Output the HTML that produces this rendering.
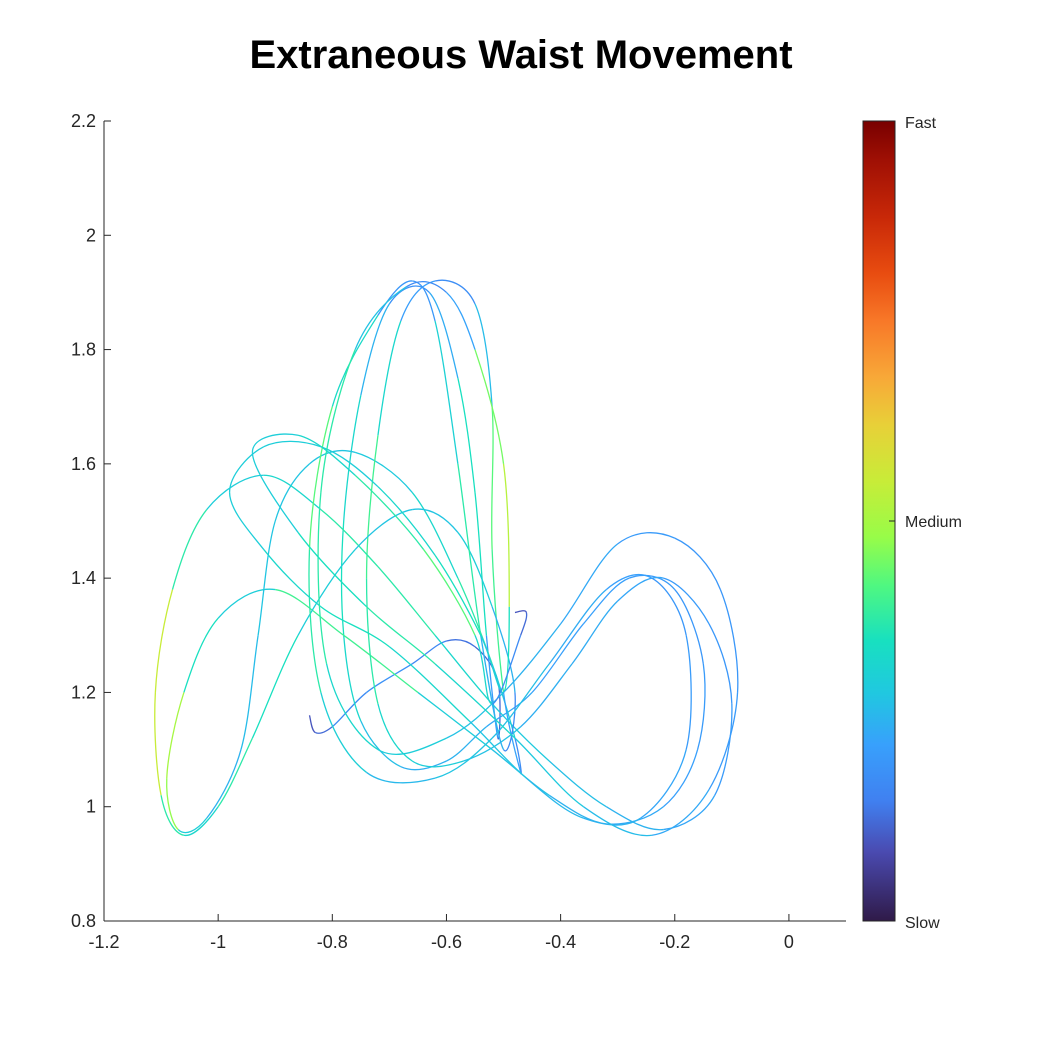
<!DOCTYPE html>
<html><head><meta charset="utf-8">
<style>
html,body{margin:0;padding:0;background:#fff;}
svg text{font-family:"Liberation Sans",Arial,sans-serif;}
</style></head>
<body>
<svg id="chart" width="1042" height="1042" viewBox="0 0 1042 1042" xmlns="http://www.w3.org/2000/svg">
<defs>
<linearGradient id="turbo" x1="0" y1="1" x2="0" y2="0">
<stop offset="0" stop-color="#2f1a48"/>
<stop offset="0.086" stop-color="#4a4ab0"/>
<stop offset="0.15" stop-color="#4080f0"/>
<stop offset="0.22" stop-color="#38a0fc"/>
<stop offset="0.285" stop-color="#20c8e0"/>
<stop offset="0.35" stop-color="#18e0c0"/>
<stop offset="0.42" stop-color="#50f880"/>
<stop offset="0.48" stop-color="#98fc48"/>
<stop offset="0.55" stop-color="#c8ec38"/>
<stop offset="0.62" stop-color="#e8d038"/>
<stop offset="0.68" stop-color="#f8a838"/>
<stop offset="0.75" stop-color="#f87828"/>
<stop offset="0.81" stop-color="#e84c10"/>
<stop offset="0.88" stop-color="#c82808"/>
<stop offset="0.95" stop-color="#a01004"/>
<stop offset="1" stop-color="#780000"/>
</linearGradient>
</defs>
<text x="521" y="68" text-anchor="middle" font-size="40" font-weight="bold" fill="#000">Extraneous Waist Movement</text>
<g id="plot"></g>
<g id="axes"></g>
<rect x="863" y="121" width="32" height="800" fill="url(#turbo)" stroke="#262626" stroke-width="1"/>
<line x1="889" y1="521" x2="895" y2="521" stroke="#262626"/>
<text x="905" y="128" font-size="16" fill="#262626">Fast</text>
<text x="905" y="527" font-size="16" fill="#262626">Medium</text>
<text x="905" y="928" font-size="16" fill="#262626">Slow</text>
</svg>
<script>
const xTicks=[-1.2,-1,-0.8,-0.6,-0.4,-0.2,0];
const xTickLabels=["-1.2","-1","-0.8","-0.6","-0.4","-0.2","0"];
const yTicks=[0.8,1,1.2,1.4,1.6,1.8,2,2.2];
const yTickLabels=["0.8","1","1.2","1.4","1.6","1.8","2","2.2"];
const trajX=[-0.84,-0.83,-0.80,-0.74,-0.66,-0.60,-0.55,-0.51,-0.51,
-0.53,-0.55,-0.58,-0.63,-0.70,-0.75,-0.78,-0.78,-0.75,-0.68,-0.60,-0.53,
-0.45,-0.36,-0.28,-0.20,-0.15,-0.16,-0.22,-0.32,-0.42,-0.52,
-0.65,-0.78,-0.90,-1.00,-1.06,-1.09,-1.07,-1.02,-0.96,-0.93,-0.90,-0.84,-0.76,-0.66,-0.58,-0.52,-0.48,-0.47,
-0.50,-0.52,-0.52,-0.55,-0.62,-0.68,-0.72,-0.74,-0.72,-0.66,-0.57,-0.47,
-0.38,-0.30,-0.22,-0.14,-0.10,-0.13,-0.22,-0.32,-0.42,-0.52,-0.62,-0.72,
-0.82,-0.92,-1.02,-1.08,-1.11,-1.10,-1.06,-1.00,-0.94,-0.86,-0.76,-0.66,
-0.58,-0.52,-0.48,-0.50,-0.54,-0.58,-0.62,-0.66,-0.72,-0.80,-0.84,-0.82,-0.74,-0.62,-0.52,
-0.42,-0.32,-0.24,-0.18,-0.18,-0.26,-0.36,-0.46,-0.56,-0.70,-0.82,
-0.92,-0.98,-0.92,-0.82,-0.72,-0.62,-0.54,-0.50,
-0.49,-0.50,-0.55,-0.60,-0.67,-0.76,-0.82,-0.81,-0.72,-0.60,-0.50,
-0.40,-0.30,-0.20,-0.12,-0.09,-0.14,-0.24,-0.36,-0.48,-0.62,-0.74,
-0.86,-0.94,-0.86,-0.76,-0.64,-0.55,-0.52,
-0.47,-0.46,-0.48];
const trajY=[1.16,1.13,1.14,1.20,1.25,1.29,1.28,1.22,1.12,
1.30,1.55,1.75,1.90,1.88,1.72,1.50,1.30,1.15,1.07,1.08,1.14,
1.20,1.32,1.40,1.38,1.25,1.10,1.00,0.97,1.02,1.10,
1.20,1.30,1.38,1.33,1.20,1.05,0.96,0.98,1.10,1.30,1.50,1.60,1.62,1.55,1.40,1.25,1.12,1.06,
1.20,1.45,1.70,1.88,1.92,1.85,1.65,1.40,1.18,1.08,1.08,1.14,
1.25,1.36,1.40,1.32,1.18,1.02,0.96,1.00,1.08,1.18,1.30,1.42,
1.52,1.58,1.52,1.38,1.20,1.02,0.95,1.00,1.12,1.30,1.45,1.52,
1.48,1.35,1.20,1.10,1.30,1.60,1.85,1.92,1.86,1.70,1.45,1.20,1.06,1.05,1.12,
1.25,1.38,1.40,1.30,1.10,0.98,0.98,1.05,1.15,1.28,1.35,
1.45,1.55,1.63,1.63,1.56,1.44,1.30,1.20,
1.35,1.60,1.80,1.90,1.91,1.80,1.55,1.25,1.10,1.12,1.20,
1.32,1.46,1.47,1.38,1.20,1.03,0.95,1.00,1.12,1.25,1.35,
1.48,1.62,1.65,1.58,1.45,1.30,1.18,
1.30,1.34,1.34];
const trajSpeed=[0.1,0.1,0.15,0.2,0.18,0.15,0.12,0.12,0.12,
0.3,0.4,0.3,0.18,0.2,0.3,0.35,0.35,0.3,0.24,0.25,0.25,
0.22,0.22,0.22,0.2,0.2,0.22,0.22,0.25,0.25,0.3,
0.3,0.5,0.3,0.3,0.4,0.6,0.35,0.25,0.25,0.28,0.28,0.28,0.28,0.3,0.35,0.4,0.2,0.15,
0.3,0.5,0.35,0.18,0.18,0.25,0.4,0.4,0.35,0.3,0.3,0.25,
0.24,0.24,0.22,0.2,0.2,0.22,0.24,0.26,0.28,0.3,0.35,0.4,
0.35,0.3,0.3,0.45,0.65,0.45,0.3,0.35,0.4,0.3,0.3,0.26,
0.3,0.3,0.2,0.15,0.35,0.4,0.22,0.18,0.22,0.45,0.4,0.35,0.26,0.26,0.3,
0.24,0.24,0.2,0.2,0.22,0.24,0.26,0.26,0.3,0.35,0.35,
0.3,0.3,0.3,0.3,0.3,0.35,0.35,0.25,
0.45,0.6,0.3,0.15,0.2,0.35,0.4,0.35,0.3,0.3,0.25,
0.25,0.22,0.2,0.2,0.2,0.22,0.25,0.28,0.3,0.35,0.4,
0.3,0.3,0.3,0.35,0.4,0.45,0.2,
0.15,0.1,0.1];

const X0=104,X1=846,XMIN=-1.2,XMAX=0.1;
const Y0=921,Y1=121,YMIN=0.8,YMAX=2.2;
function sx(v){return X0+(v-XMIN)/(XMAX-XMIN)*(X1-X0);}
function sy(v){return Y0-(v-YMIN)/(YMAX-YMIN)*(Y0-Y1);}
const stops=[[0,[47,26,72]],[0.086,[74,74,176]],[0.15,[64,128,240]],[0.22,[56,160,252]],[0.285,[32,200,224]],[0.35,[24,224,192]],[0.42,[80,248,128]],[0.48,[152,252,72]],[0.55,[200,236,56]],[0.62,[232,208,56]],[0.68,[248,168,56]],[0.75,[248,120,40]],[0.81,[232,76,16]],[0.88,[200,40,8]],[0.95,[160,16,4]],[1,[120,0,0]]];
function cmap(t){t=Math.max(0,Math.min(1,t));for(let i=1;i<stops.length;i++){if(t<=stops[i][0]){const a=stops[i-1],b=stops[i];const f=(t-a[0])/(b[0]-a[0]);const c=a[1].map((v,k)=>Math.round(v+(b[1][k]-v)*f));return `rgb(${c[0]},${c[1]},${c[2]})`;}}return 'rgb(120,0,0)';}
const NS='http://www.w3.org/2000/svg';
const plot=document.getElementById('plot');
const P=trajX.map((x,i)=>[sx(x),sy(trajY[i])]);
for(let i=0;i<P.length-1;i++){
  const p0=P[Math.max(0,i-1)],p1=P[i],p2=P[i+1],p3=P[Math.min(P.length-1,i+2)];
  const c1=[p1[0]+(p2[0]-p0[0])/6,p1[1]+(p2[1]-p0[1])/6];
  const c2=[p2[0]-(p3[0]-p1[0])/6,p2[1]-(p3[1]-p1[1])/6];
  const path=document.createElementNS(NS,'path');
  path.setAttribute('d',`M${p1[0]},${p1[1]} C${c1[0]},${c1[1]} ${c2[0]},${c2[1]} ${p2[0]},${p2[1]}`);
  path.setAttribute('fill','none');
  path.setAttribute('stroke',cmap((trajSpeed[i]+trajSpeed[i+1])/2));
  path.setAttribute('stroke-width','1.3');
  
  
  plot.appendChild(path);
}
const axes=document.getElementById('axes');
function mk(tag,attrs){const e=document.createElementNS(NS,tag);for(const k in attrs)e.setAttribute(k,attrs[k]);return e;}
let xl=mk('line',{x1:X0,y1:Y0,x2:X1,y2:Y0,stroke:'#262626'});


axes.appendChild(xl);
let yl=mk('line',{x1:X0,y1:Y0,x2:X0,y2:Y1,stroke:'#262626'});


axes.appendChild(yl);
xTicks.forEach((v,i)=>{const x=sx(v);
  const t=mk('line',{x1:x,y1:Y0,x2:x,y2:Y0-7,stroke:'#262626'});
  
  
  axes.appendChild(t);
  const l=mk('text',{x:x,y:Y0+27,'text-anchor':'middle','font-size':'18',fill:'#262626'});
  l.textContent=xTickLabels[i];
  
  
  axes.appendChild(l);});
yTicks.forEach((v,i)=>{const y=sy(v);
  const t=mk('line',{x1:X0,y1:y,x2:X0+7,y2:y,stroke:'#262626'});
  
  
  axes.appendChild(t);
  const l=mk('text',{x:X0-8,y:y+6,'text-anchor':'end','font-size':'18',fill:'#262626'});
  l.textContent=yTickLabels[i];
  
  
  axes.appendChild(l);});
</script>
</body></html>
